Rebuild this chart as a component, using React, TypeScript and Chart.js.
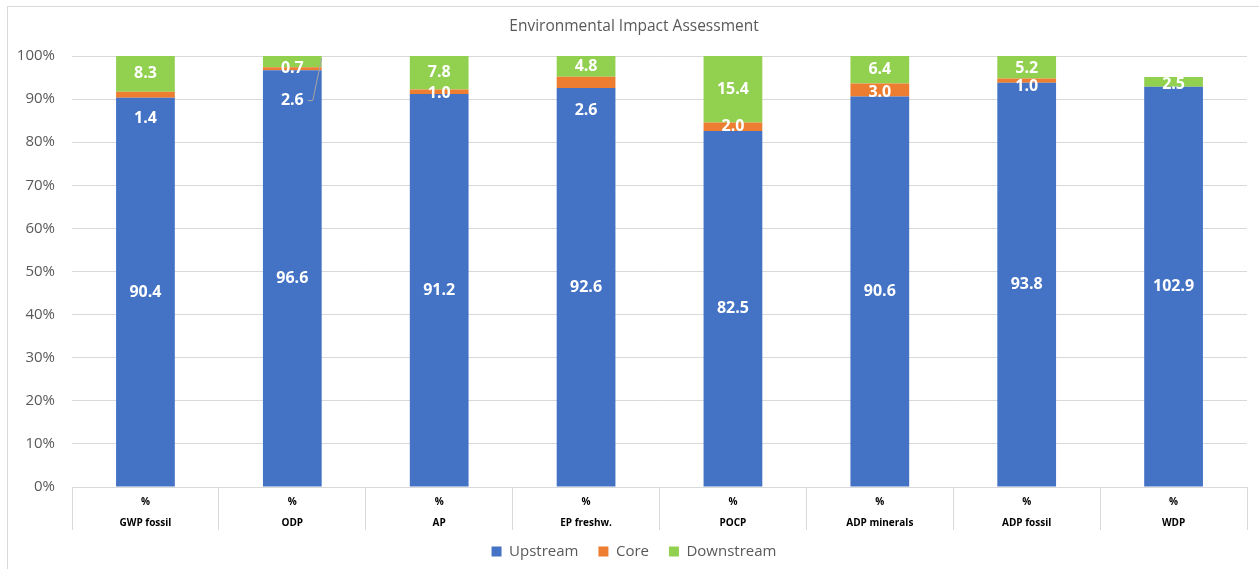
import React, { useEffect, useRef } from "react";
import { Chart, registerables } from "chart.js";

Chart.register(...registerables);

// ---------- data ----------
const categories = ["GWP fossil", "ODP", "AP", "EP freshw.", "POCP", "ADP minerals", "ADP fossil", "WDP"];
const unitRow = "%";
const upstream = [90.4, 96.6, 91.2, 92.6, 82.5, 90.6, 93.8, 102.9];
const core = [1.4, 0.7, 1.0, 2.6, 2.0, 3.0, 1.0, -5.4];
const downstream = [8.3, 2.6, 7.8, 4.8, 15.4, 6.4, 5.2, 2.5];
const yMax = 100;
const yStep = 10;

// ---------- label placement tweaks (pixels, downward) ----------
const LABEL_NUDGE: Record<string, number[]> = {
  Upstream: [0, 0, 0, 0, 0, 0, 0, 0],
  Core: [24, 0, 1.5, 28, 0, 2, 6, 0],
  Downstream: [0, 39, 0, 0, 0, 0, 1, 3],
};
const LABEL_LEADER: Record<string, number[]> = {
  Downstream: [1],
};

const COLORS = { up: "#4472C4", core: "#ED7D31", down: "#92D050" };
const TEXT = "#595959";
const GRID = "#d9d9d9";
const FONT = "'Open Sans', 'Noto Sans', sans-serif";

// x-axis band height and how much the legend box overlaps it
const X_AXIS_HEIGHT = 44;
const LEGEND_OVERLAP = 7;

// 100% stacked: share of the sum of absolute values
const totals = categories.map((_, i) => Math.abs(upstream[i]) + Math.abs(core[i]) + Math.abs(downstream[i]));
const share = (arr: number[]) => arr.map((v, i) => (v / totals[i]) * 100);

const labelPlugin = {
  id: "segmentLabels",
  afterDatasetsDraw(chart: any) {
    const { ctx } = chart;
    ctx.save();
    ctx.font = `bold 16px ${FONT}`;
    ctx.textAlign = "center";
    ctx.textBaseline = "middle";
    chart.data.datasets.forEach((ds: any, di: number) => {
      const meta = chart.getDatasetMeta(di);
      const raw: number[] = ds.rawValues;
      const nudges = LABEL_NUDGE[ds.label] || [];
      const leaders = LABEL_LEADER[ds.label] || [];
      meta.data.forEach((bar: any, i: number) => {
        const v = raw[i];
        if (!(v > 0)) return;
        const p = bar.getProps(["x", "y", "base", "width"], true);
        const cy = (p.y + p.base) / 2 + (nudges[i] || 0);
        const txt = v.toFixed(1);
        ctx.fillStyle = "#ffffff";
        ctx.fillText(txt, p.x, cy);
        if (leaders.includes(i)) {
          const w = ctx.measureText(txt).width;
          const segTop = Math.min(p.y, p.base);
          ctx.strokeStyle = "#a6a6a6";
          ctx.lineWidth = 1;
          ctx.beginPath();
          ctx.moveTo(p.x + w / 2 + 4, cy);
          ctx.lineTo(p.x + w / 2 + 9, cy);
          ctx.lineTo(p.x + p.width / 2, segTop + 2);
          ctx.stroke();
        }
      });
    });
    ctx.restore();
  },
};

// let the legend box overlap the bottom of the tall x-axis band
const legendOverlapPlugin = {
  id: "legendOverlap",
  afterInit(chart: any) {
    const lg = chart.legend;
    if (!lg || lg.__patched) return;
    lg.__patched = true;
    const origFit = lg.fit.bind(lg);
    lg.fit = function () {
      origFit();
      this.height = Math.max(0, this.height - LEGEND_OVERLAP);
    };
    const origDraw = lg.draw.bind(lg);
    lg.draw = function (...args: any[]) {
      const ctx = chart.ctx;
      ctx.save();
      ctx.translate(0, -LEGEND_OVERLAP);
      origDraw(...args);
      ctx.restore();
    };
  },
};

export default function App() {
  const ref = useRef<HTMLCanvasElement | null>(null);

  useEffect(() => {
    if (!ref.current) return;
    Chart.defaults.font.family = FONT;
    Chart.defaults.color = TEXT;
    const chart = new Chart(ref.current, {
      type: "bar",
      data: {
        labels: categories.map((c) => [unitRow, c]),
        datasets: [
          { label: "Upstream", data: share(upstream), rawValues: upstream, backgroundColor: COLORS.up, borderWidth: 0 } as any,
          { label: "Core", data: share(core), rawValues: core, backgroundColor: COLORS.core, borderWidth: 0 } as any,
          { label: "Downstream", data: share(downstream), rawValues: downstream, backgroundColor: COLORS.down, borderWidth: 0 } as any,
        ],
      },
      options: {
        animation: false,
        responsive: true,
        maintainAspectRatio: false,
        layout: { padding: 0 },
        datasets: { bar: { categoryPercentage: 1, barPercentage: 0.4 } },
        scales: {
          x: {
            stacked: true,
            grid: { offset: true, drawOnChartArea: false, drawTicks: true, tickLength: 43, color: GRID, lineWidth: 1 },
            border: { display: true, color: GRID },
            ticks: {
              padding: -38.5,
              color: "#000000",
              font: { size: 10, weight: "bold", lineHeight: 2.1 },
              maxRotation: 0,
              autoSkip: false,
            },
            afterFit(s: any) {
              s.height = X_AXIS_HEIGHT;
            },
          },
          y: {
            stacked: true,
            min: 0,
            max: yMax,
            grid: { color: GRID, drawTicks: false },
            border: { display: false },
            ticks: {
              stepSize: yStep,
              padding: 17,
              color: TEXT,
              font: { size: 15 },
              callback: (v: any) => `${v}%`,
            },
            afterFit(s: any) {
              s.width = 64;
            },
          },
          yRight: {
            position: "right",
            display: true,
            grid: { display: false, drawTicks: false },
            border: { display: false },
            ticks: { display: false },
            afterFit(s: any) {
              s.width = 13;
            },
          },
        },
        plugins: {
          title: {
            display: true,
            text: "Environmental Impact Assessment",
            color: TEXT,
            font: { size: 15.5, weight: "normal", lineHeight: 1.2 },
            padding: { top: 10, bottom: 20.4 },
          },
          legend: {
            position: "bottom",
            labels: {
              boxWidth: 10,
              boxHeight: 10,
              padding: 20,
              color: TEXT,
              font: { size: 15 },
            },
          },
          tooltip: { enabled: false },
        },
      } as any,
      plugins: [labelPlugin, legendOverlapPlugin],
    });
    return () => chart.destroy();
  }, []);

  return (
    <div style={{ position: "fixed", left: 0, top: 0, width: "100vw", height: "100vh", overflow: "hidden", background: "#fff" }}>
      <div
        style={{
          position: "absolute",
          left: 7,
          top: 6,
          width: 1300,
          height: 600,
          borderLeft: `1px solid ${GRID}`,
          borderTop: `1px solid ${GRID}`,
          boxSizing: "border-box",
        }}
      />
      <div style={{ position: "absolute", left: 8, top: 7, width: 1252, height: 562 }}>
        <canvas ref={ref} />
      </div>
    </div>
  );
}
